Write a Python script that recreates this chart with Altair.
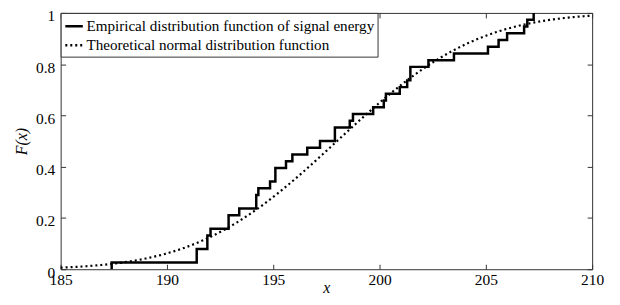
import altair as alt
import pandas as pd

# Empirical distribution function: jump locations (signal energy) and cumulative sample count after each jump
jump_x = [187.4, 191.4, 191.9, 192.05, 192.9, 193.4, 194.2, 194.3, 194.85, 195.1,
          195.6, 195.9, 196.6, 197.2, 197.9, 198.6, 198.75, 199.7, 200.2, 200.3,
          200.95, 201.3, 201.45, 202.3, 203.5, 205.1, 205.6, 206.0, 206.8, 206.95, 207.25]
cum_count = [1, 3, 5, 6, 8, 9, 11, 12, 13, 15,
             16, 17, 18, 19, 21, 22, 23, 24, 25, 26,
             27, 28, 30, 31, 32, 33, 34, 35, 36, 37, 38]
n_samples = 38

# Theoretical normal distribution parameters
mu = 198.0
sigma = 5.2

x_ticks = [185, 190, 195, 200, 205, 210]
y_ticks = [0, 0.2, 0.4, 0.6, 0.8, 1]
series_names = ["Empirical distribution function of signal energy",
                "Theoretical normal distribution function"]

emp_df = pd.DataFrame({
    "x": [jump_x[0]] + jump_x,
    "F": [0.0] + [c / n_samples for c in cum_count],
    "series": series_names[0],
})

FONT = "Times New Roman, Liberation Serif, DejaVu Serif, serif"
AX = "#333333"

x_enc = alt.X("x:Q", scale=alt.Scale(domain=[185, 210], nice=False, zero=False),
              axis=alt.Axis(values=x_ticks, title="x", gridDash=[5, 248, 5, 1000],
                            labelPadding=3, labelFlush=False,
                            titleY=23, titleBaseline="alphabetic"))
y_enc = alt.Y("F:Q", scale=alt.Scale(domain=[0, 1], nice=False),
              axis=alt.Axis(values=y_ticks, format="~g", title="F(x)",
                            gridDash=[5, 525, 5, 1000], labelPadding=6, titlePadding=6,
                            labelFlush=False, labelOffset=3))
dash_enc = alt.StrokeDash(
    "series:N",
    scale=alt.Scale(domain=series_names, range=[[1, 0], [2, 3]]),
    legend=alt.Legend(title=None, orient="top-left", offset=0, padding=3,
                      strokeColor=AX, fillColor="white", symbolType="stroke",
                      symbolSize=310, symbolStrokeWidth=2.5, symbolStrokeColor="black",
                      labelFont=FONT, labelFontSize=15.2, labelColor="black",
                      rowPadding=-2.5, labelOffset=2, labelLimit=0, cornerRadius=0),
)

normal = alt.Chart(alt.sequence(185, 210.05, 0.1, as_="x")).transform_calculate(
    F=f"cumulativeNormal(datum.x, {mu}, {sigma})",
    series=f"'{series_names[1]}'",
).mark_line(color="black", strokeWidth=2.2).encode(x=x_enc, y=y_enc, strokeDash=dash_enc)

emp = alt.Chart(emp_df).mark_line(color="black", strokeWidth=2.5, interpolate="step-after").encode(
    x=x_enc, y=y_enc, strokeDash=dash_enc)

chart = alt.layer(normal, emp).properties(
    width=535, height=258,
    autosize=alt.AutoSizeParams(type="none"),
    padding={"left": 53, "top": 4, "right": 20, "bottom": 27},
).configure_view(stroke=AX, strokeWidth=1).configure_axis(
    domain=False, ticks=False, grid=True, gridColor=AX, gridWidth=1, gridOpacity=1,
    labelFont=FONT, labelFontSize=15.5, labelColor="black",
    titleFont=FONT, titleFontSize=16, titleFontStyle="italic", titleFontWeight="normal",
    titleColor="black",
)

chart.save("out.html", embed_options={"renderer": "svg", "actions": False})
